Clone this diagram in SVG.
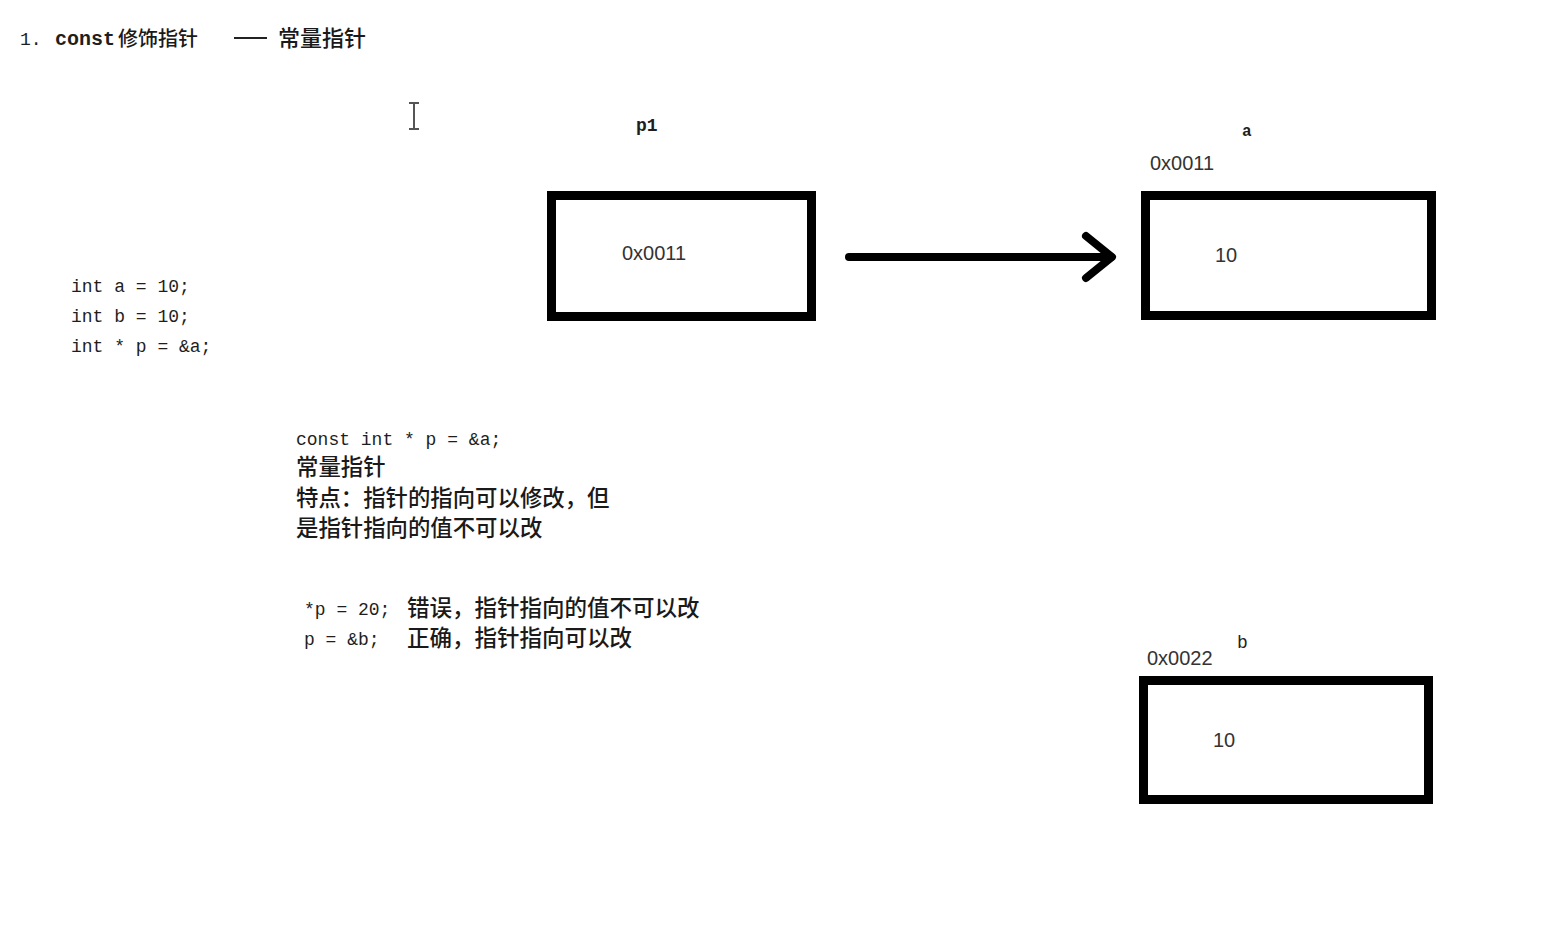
<svg xmlns="http://www.w3.org/2000/svg" width="1550" height="929" viewBox="0 0 1550 929">
  <style>
    .mono { font-family: "Liberation Mono", "DejaVu Sans Mono", "Noto Sans CJK SC", monospace; fill: #1e1e1e; }
    .cjk { font-family: "Noto Sans CJK SC", "Liberation Sans", sans-serif; fill: #1a1a1a; font-weight: 500; }
    .num { font-family: "Liberation Sans", "DejaVu Sans", sans-serif; fill: #333; font-size: 20px; }
    .box { fill: #ffffff; stroke: #000; stroke-width: 9; }
    .conn { fill: none; stroke: #000; stroke-width: 8; stroke-linecap: round; stroke-linejoin: round; }
  </style>
  <rect x="0" y="0" width="1550" height="929" fill="#ffffff"/>

  <g id="title">
    <text class="mono" x="20" y="45" font-size="18">1.</text>
    <text class="mono" x="55" y="45" font-size="20" font-weight="bold">const</text>
    <text class="cjk" x="118" y="46" font-size="20">修饰指针</text>
    <line x1="234" y1="38" x2="267" y2="38" stroke="#222" stroke-width="2"/>
    <text class="cjk" x="278" y="46" font-size="22">常量指针</text>
  </g>

  <g id="cursor" stroke="#555" stroke-width="2" fill="none">
    <path d="M409,103 L419,103 M414,103 L414,129 M409,129 L419,129"/>
  </g>

  <g id="code-decl">
    <text class="mono" x="71" y="292" font-size="18">int a = 10;</text>
    <text class="mono" x="71" y="322" font-size="18">int b = 10;</text>
    <text class="mono" x="71" y="352" font-size="18">int * p = &amp;a;</text>
  </g>

  <g id="explanation">
    <text class="mono" x="296" y="445" font-size="18">const int * p = &amp;a;</text>
    <text class="cjk" x="296" y="475" font-size="22.4">常量指针</text>
    <text class="cjk" x="296" y="506" font-size="22.4">特点：指针的指向可以修改，但</text>
    <text class="cjk" x="296" y="536" font-size="22.4">是指针指向的值不可以改</text>
  </g>

  <g id="examples">
    <text class="mono" x="304" y="615" font-size="18">*p = 20;</text>
    <text class="cjk" x="407" y="616" font-size="22.5">错误，指针指向的值不可以改</text>
    <text class="mono" x="304" y="645" font-size="18">p = &amp;b;</text>
    <text class="cjk" x="407" y="646" font-size="22.5">正确，指针指向可以改</text>
  </g>

  <g id="node-p1">
    <text class="mono" x="636" y="131" font-size="18" font-weight="bold">p1</text>
    <rect class="box" x="551.5" y="195.5" width="260" height="121"/>
    <text class="num" x="622" y="260">0x0011</text>
  </g>

  <g id="node-a">
    <text class="mono" x="1242" y="136" font-size="16" font-weight="bold">a</text>
    <text class="num" x="1150" y="170">0x0011</text>
    <rect class="box" x="1145.5" y="195.5" width="286" height="120"/>
    <text class="num" x="1215" y="262">10</text>
  </g>

  <g id="node-b">
    <text class="mono" x="1237" y="648" font-size="18">b</text>
    <text class="num" x="1147" y="665">0x0022</text>
    <rect class="box" x="1143.5" y="680.5" width="285" height="119"/>
    <text class="num" x="1213" y="747">10</text>
  </g>

  <g id="connectors">
    <path class="conn" d="M849,257 L1111,257"/>
    <path class="conn" d="M1086,236 L1112,257 L1086,278"/>
  </g>
</svg>
